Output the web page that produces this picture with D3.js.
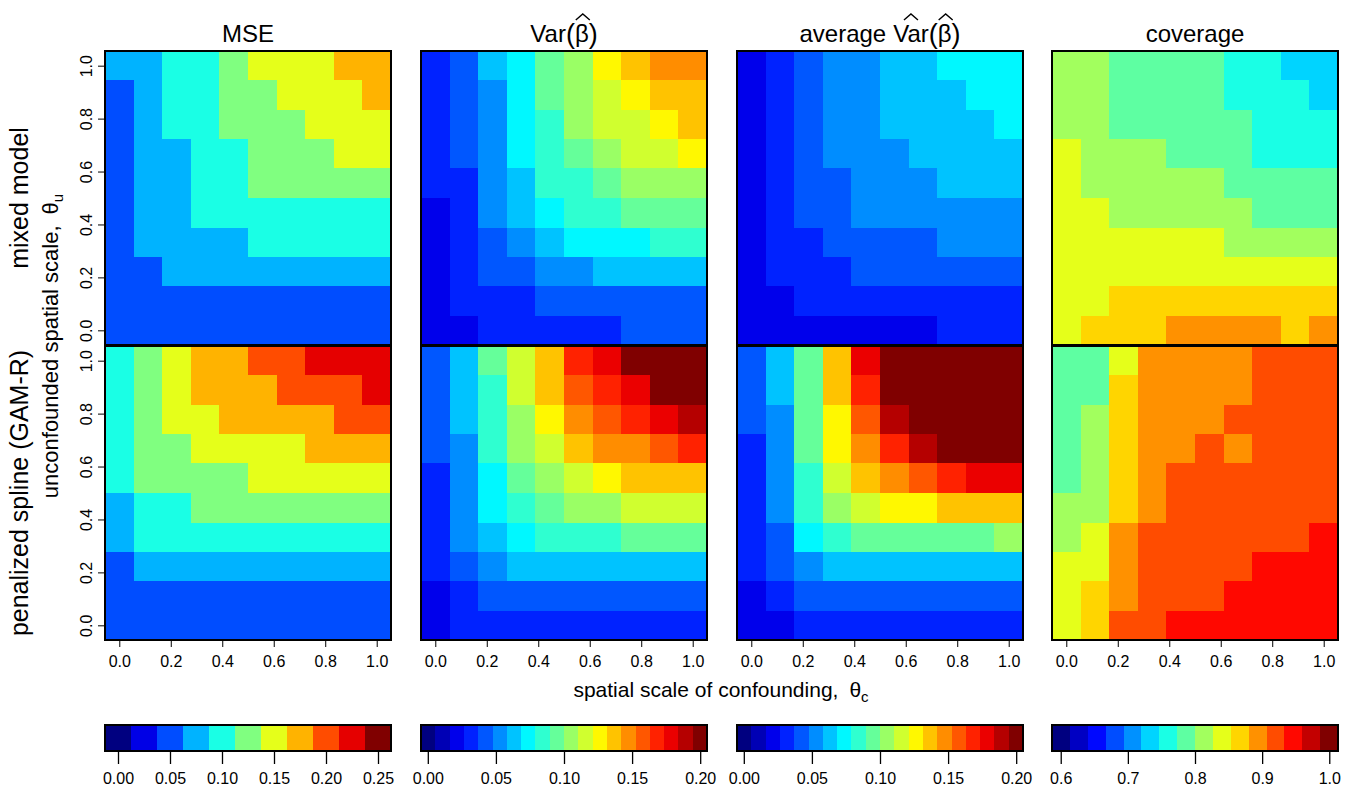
<!DOCTYPE html>
<html>
<head>
<meta charset="utf-8">
<script src="https://cdn.jsdelivr.net/npm/d3@7"></script>
<style>
  body { margin: 0; background: #fff; }
  text { font-family: "Liberation Sans", Arial, Helvetica, sans-serif; fill: #000; }
</style>
</head>
<body>
<svg id="chart" width="1356" height="787"></svg>
<script>
// spatial scales used in the simulation (10 values from 0 to 1)
const theta = [0, 0.111, 0.222, 0.333, 0.444, 0.556, 0.667, 0.778, 0.889, 1.0]
const axisTicks = [0, 0.2, 0.4, 0.6, 0.8, 1.0]

// every matrix: rows go from theta_u = 1.0 (top) down to theta_u = 0.0,
// columns go from theta_c = 0.0 to theta_c = 1.0

// MSE
const mseMixed = [
  [0.075, 0.075, 0.100, 0.100, 0.125, 0.150, 0.150, 0.150, 0.175, 0.175],
  [0.050, 0.075, 0.100, 0.100, 0.125, 0.125, 0.150, 0.150, 0.150, 0.175],
  [0.050, 0.075, 0.100, 0.100, 0.125, 0.125, 0.125, 0.150, 0.150, 0.150],
  [0.050, 0.075, 0.075, 0.100, 0.100, 0.125, 0.125, 0.125, 0.150, 0.150],
  [0.050, 0.075, 0.075, 0.100, 0.100, 0.125, 0.125, 0.125, 0.125, 0.125],
  [0.050, 0.075, 0.075, 0.100, 0.100, 0.100, 0.100, 0.100, 0.100, 0.100],
  [0.050, 0.075, 0.075, 0.075, 0.075, 0.100, 0.100, 0.100, 0.100, 0.100],
  [0.050, 0.050, 0.075, 0.075, 0.075, 0.075, 0.075, 0.075, 0.075, 0.075],
  [0.050, 0.050, 0.050, 0.050, 0.050, 0.050, 0.050, 0.050, 0.050, 0.050],
  [0.050, 0.050, 0.050, 0.050, 0.050, 0.050, 0.050, 0.050, 0.050, 0.050]
]
const mseGam = [
  [0.100, 0.125, 0.150, 0.175, 0.175, 0.200, 0.200, 0.225, 0.225, 0.225],
  [0.100, 0.125, 0.150, 0.175, 0.175, 0.175, 0.200, 0.200, 0.200, 0.225],
  [0.100, 0.125, 0.150, 0.150, 0.175, 0.175, 0.175, 0.175, 0.200, 0.200],
  [0.100, 0.125, 0.125, 0.150, 0.150, 0.150, 0.150, 0.175, 0.175, 0.175],
  [0.100, 0.125, 0.125, 0.125, 0.125, 0.150, 0.150, 0.150, 0.150, 0.150],
  [0.075, 0.100, 0.100, 0.125, 0.125, 0.125, 0.125, 0.125, 0.125, 0.125],
  [0.075, 0.100, 0.100, 0.100, 0.100, 0.100, 0.100, 0.100, 0.100, 0.100],
  [0.050, 0.075, 0.075, 0.075, 0.075, 0.075, 0.075, 0.075, 0.075, 0.075],
  [0.050, 0.050, 0.050, 0.050, 0.050, 0.050, 0.050, 0.050, 0.050, 0.050],
  [0.050, 0.050, 0.050, 0.050, 0.050, 0.050, 0.050, 0.050, 0.050, 0.050]
]

// Var(beta hat)
const varMixed = [
  [0.032, 0.042, 0.063, 0.074, 0.095, 0.105, 0.126, 0.137, 0.147, 0.147],
  [0.032, 0.042, 0.053, 0.074, 0.095, 0.105, 0.116, 0.126, 0.137, 0.137],
  [0.032, 0.042, 0.053, 0.074, 0.084, 0.105, 0.116, 0.116, 0.126, 0.137],
  [0.032, 0.042, 0.053, 0.074, 0.084, 0.095, 0.105, 0.116, 0.116, 0.126],
  [0.032, 0.032, 0.053, 0.063, 0.084, 0.084, 0.095, 0.105, 0.105, 0.105],
  [0.021, 0.032, 0.053, 0.063, 0.074, 0.084, 0.084, 0.095, 0.095, 0.095],
  [0.021, 0.032, 0.042, 0.053, 0.063, 0.074, 0.074, 0.074, 0.084, 0.084],
  [0.021, 0.032, 0.042, 0.042, 0.053, 0.053, 0.063, 0.063, 0.063, 0.063],
  [0.021, 0.032, 0.032, 0.032, 0.042, 0.042, 0.042, 0.042, 0.042, 0.042],
  [0.021, 0.021, 0.032, 0.032, 0.032, 0.032, 0.032, 0.042, 0.042, 0.042]
]
const varGam = [
  [0.042, 0.063, 0.095, 0.116, 0.137, 0.168, 0.179, 0.200, 0.200, 0.200],
  [0.042, 0.063, 0.084, 0.116, 0.137, 0.158, 0.168, 0.179, 0.200, 0.200],
  [0.042, 0.063, 0.084, 0.105, 0.126, 0.147, 0.158, 0.168, 0.179, 0.189],
  [0.042, 0.053, 0.084, 0.105, 0.116, 0.137, 0.147, 0.147, 0.158, 0.168],
  [0.032, 0.053, 0.074, 0.095, 0.105, 0.116, 0.126, 0.137, 0.137, 0.137],
  [0.032, 0.053, 0.074, 0.084, 0.095, 0.105, 0.105, 0.116, 0.116, 0.116],
  [0.032, 0.053, 0.063, 0.074, 0.084, 0.084, 0.084, 0.095, 0.095, 0.095],
  [0.032, 0.042, 0.053, 0.063, 0.063, 0.063, 0.063, 0.063, 0.063, 0.063],
  [0.021, 0.032, 0.042, 0.042, 0.042, 0.042, 0.042, 0.042, 0.042, 0.042],
  [0.021, 0.032, 0.032, 0.032, 0.032, 0.032, 0.032, 0.032, 0.032, 0.032]
]

// average estimated Var(beta hat)
const avgVarMixed = [
  [0.021, 0.032, 0.042, 0.053, 0.053, 0.063, 0.063, 0.074, 0.074, 0.074],
  [0.021, 0.032, 0.042, 0.053, 0.053, 0.063, 0.063, 0.063, 0.074, 0.074],
  [0.021, 0.032, 0.042, 0.053, 0.053, 0.063, 0.063, 0.063, 0.063, 0.074],
  [0.021, 0.032, 0.042, 0.053, 0.053, 0.053, 0.063, 0.063, 0.063, 0.063],
  [0.021, 0.032, 0.042, 0.042, 0.053, 0.053, 0.053, 0.063, 0.063, 0.063],
  [0.021, 0.032, 0.042, 0.042, 0.053, 0.053, 0.053, 0.053, 0.053, 0.053],
  [0.021, 0.032, 0.032, 0.042, 0.042, 0.042, 0.042, 0.053, 0.053, 0.053],
  [0.021, 0.032, 0.032, 0.032, 0.042, 0.042, 0.042, 0.042, 0.042, 0.042],
  [0.021, 0.021, 0.032, 0.032, 0.032, 0.032, 0.032, 0.032, 0.032, 0.032],
  [0.021, 0.021, 0.021, 0.021, 0.021, 0.021, 0.021, 0.032, 0.032, 0.032]
]
const avgVarGam = [
  [0.042, 0.063, 0.095, 0.137, 0.179, 0.200, 0.200, 0.200, 0.200, 0.200],
  [0.042, 0.063, 0.095, 0.137, 0.168, 0.200, 0.200, 0.200, 0.200, 0.200],
  [0.042, 0.053, 0.095, 0.126, 0.158, 0.189, 0.200, 0.200, 0.200, 0.200],
  [0.032, 0.053, 0.095, 0.126, 0.147, 0.168, 0.189, 0.200, 0.200, 0.200],
  [0.032, 0.053, 0.084, 0.116, 0.137, 0.147, 0.158, 0.168, 0.179, 0.179],
  [0.032, 0.053, 0.084, 0.105, 0.116, 0.126, 0.126, 0.137, 0.137, 0.137],
  [0.032, 0.042, 0.074, 0.084, 0.095, 0.095, 0.095, 0.095, 0.095, 0.105],
  [0.032, 0.042, 0.053, 0.063, 0.063, 0.063, 0.063, 0.063, 0.063, 0.063],
  [0.021, 0.032, 0.042, 0.042, 0.042, 0.042, 0.042, 0.042, 0.042, 0.042],
  [0.021, 0.021, 0.032, 0.032, 0.032, 0.032, 0.032, 0.032, 0.032, 0.032]
]

// coverage of the confidence intervals
const covMixed = [
  [0.813, 0.813, 0.787, 0.787, 0.787, 0.787, 0.760, 0.760, 0.733, 0.733],
  [0.813, 0.813, 0.787, 0.787, 0.787, 0.787, 0.760, 0.760, 0.760, 0.733],
  [0.813, 0.813, 0.787, 0.787, 0.787, 0.787, 0.787, 0.760, 0.760, 0.760],
  [0.840, 0.813, 0.813, 0.813, 0.787, 0.787, 0.787, 0.760, 0.760, 0.760],
  [0.840, 0.813, 0.813, 0.813, 0.813, 0.813, 0.787, 0.787, 0.787, 0.787],
  [0.840, 0.840, 0.813, 0.813, 0.813, 0.813, 0.813, 0.787, 0.787, 0.787],
  [0.840, 0.840, 0.840, 0.840, 0.840, 0.840, 0.813, 0.813, 0.813, 0.813],
  [0.840, 0.840, 0.840, 0.840, 0.840, 0.840, 0.840, 0.840, 0.840, 0.840],
  [0.840, 0.840, 0.867, 0.867, 0.867, 0.867, 0.867, 0.867, 0.867, 0.867],
  [0.840, 0.867, 0.867, 0.867, 0.893, 0.893, 0.893, 0.893, 0.867, 0.893]
]
const covGam = [
  [0.787, 0.787, 0.840, 0.893, 0.893, 0.893, 0.893, 0.920, 0.920, 0.920],
  [0.787, 0.787, 0.867, 0.893, 0.893, 0.893, 0.893, 0.920, 0.920, 0.920],
  [0.787, 0.813, 0.867, 0.893, 0.893, 0.893, 0.920, 0.920, 0.920, 0.920],
  [0.787, 0.813, 0.867, 0.893, 0.893, 0.920, 0.893, 0.920, 0.920, 0.920],
  [0.787, 0.813, 0.867, 0.893, 0.920, 0.920, 0.920, 0.920, 0.920, 0.920],
  [0.813, 0.813, 0.867, 0.893, 0.920, 0.920, 0.920, 0.920, 0.920, 0.920],
  [0.813, 0.840, 0.893, 0.920, 0.920, 0.920, 0.920, 0.920, 0.920, 0.946],
  [0.840, 0.840, 0.893, 0.920, 0.920, 0.920, 0.920, 0.946, 0.946, 0.946],
  [0.840, 0.867, 0.893, 0.920, 0.920, 0.920, 0.946, 0.946, 0.946, 0.946],
  [0.840, 0.867, 0.920, 0.920, 0.946, 0.946, 0.946, 0.946, 0.946, 0.946]
]

// colour bar ranges and tick labels
const mseLegendRange = [-0.0125, 0.2625]
const mseLegendTicks = [0, 0.05, 0.10, 0.15, 0.20, 0.25]
const varLegendRange = [-0.005, 0.205]
const varLegendTicks = [0, 0.05, 0.10, 0.15, 0.20]
const covLegendRange = [0.587, 1.013]
const covLegendTicks = [0.6, 0.7, 0.8, 0.9, 1.0]

const rowLabels = ['mixed model', 'penalized spline (GAM-R)']

/* ----- layout ----- */
const FONT = 'Liberation Sans, Arial, Helvetica, sans-serif'
const panelLeft = [105, 421, 737, 1052]
const panelWidth = 286
const rowTop = [51, 346]
const panelHeight = 294
const legendTop = 725
const legendHeight = 26

// matlab / fields style "jet" colours
function jet (t) {
  const f = v => Math.max(0, Math.min(1, v))
  const r = f(1.5 - Math.abs(4 * t - 3))
  const g = f(1.5 - Math.abs(4 * t - 2))
  const b = f(1.5 - Math.abs(4 * t - 1))
  return d3.rgb(r * 255, g * 255, b * 255).formatHex()
}
function palette (n) {
  return d3.range(n).map(k => jet(k / (n - 1)))
}

const svg = d3.select('#chart')

// text with optional hats (plotmath look)
function mathText (cx, baseline, parts) {
  const grp = svg.append('g')
  let x = 0
  const hats = []
  parts.forEach(p => {
    const el = grp.append('text')
      .attr('x', x)
      .attr('y', baseline + (p.dy || 0))
      .attr('font-size', p.size || 24)
      .text(p.t)
    const w = el.node().getComputedTextLength()
    if (p.hat) hats.push(x + w / 2 + (p.hatShift || 0))
    x += w + (p.gap || 0)
  })
  hats.forEach(hx => {
    grp.append('path')
      .attr('d', `M${hx - 7},${baseline - 22}L${hx},${baseline - 28}L${hx + 7},${baseline - 22}`)
      .attr('fill', 'none')
      .attr('stroke', '#000')
      .attr('stroke-width', 1.4)
  })
  grp.attr('transform', `translate(${cx - x / 2},0)`)
}

const columns = [
  {
    title: [{ t: 'MSE' }],
    data: [mseMixed, mseGam],
    range: mseLegendRange, n: 11, ticks: mseLegendTicks, fmt: '.2f'
  },
  {
    title: [{ t: 'Var' }, { t: '(', size: 27, dy: 1 }, { t: 'β', hat: true, hatShift: 1 }, { t: ')', size: 27, dy: 1 }],
    data: [varMixed, varGam],
    range: varLegendRange, n: 20, ticks: varLegendTicks, fmt: '.2f'
  },
  {
    title: [{ t: 'average', gap: 7 }, { t: 'Var', hat: true }, { t: '(', size: 27, dy: 1 }, { t: 'β', hat: true, hatShift: 1 }, { t: ')', size: 27, dy: 1 }],
    data: [avgVarMixed, avgVarGam],
    range: varLegendRange, n: 20, ticks: varLegendTicks, fmt: '.2f'
  },
  {
    title: [{ t: 'coverage' }],
    data: [covMixed, covGam],
    range: covLegendRange, n: 16, ticks: covLegendTicks, fmt: '.1f'
  }
]

const half = (theta[1] - theta[0]) / 2

columns.forEach((col, ci) => {
  const left = panelLeft[ci]
  const x = d3.scaleLinear().domain([theta[0] - half, theta[9] + half]).range([left, left + panelWidth])
  const color = d3.scaleQuantize().domain(col.range).range(palette(col.n))

  // title
  mathText(left + panelWidth / 2, 42, col.title)

  col.data.forEach((matrix, ri) => {
    const top = rowTop[ri]
    const y = d3.scaleLinear().domain([theta[0] - half, theta[9] + half]).range([top + panelHeight, top])
    const cells = []
    matrix.forEach((row, i) => {
      row.forEach((v, j) => {
        cells.push({ tc: theta[j], tu: theta[9 - i], v: v })
      })
    })
    svg.append('g')
      .attr('shape-rendering', 'crispEdges')
      .selectAll('rect')
      .data(cells)
      .join('rect')
      .attr('x', d => x(d.tc - half))
      .attr('y', d => y(d.tu + half))
      .attr('width', d => x(d.tc + half) - x(d.tc - half))
      .attr('height', d => y(d.tu - half) - y(d.tu + half))
      .attr('fill', d => color(d.v))

    // y axis only on the first column
    if (ci === 0) {
      svg.append('g')
        .attr('transform', `translate(${left},0)`)
        .call(d3.axisLeft(y).tickValues(axisTicks).tickFormat(d3.format('.1f')).tickSize(7))
        .call(g => g.select('.domain').remove())
        .attr('font-family', FONT)
        .attr('font-size', 16)
        .call(g => g.selectAll('.tick text')
          .attr('x', null)
          .attr('dy', null)
          .attr('text-anchor', 'middle')
          .attr('transform', 'translate(-13,0) rotate(-90)'))
    }
    // x axis only under the bottom row
    if (ri === 1) {
      svg.append('g')
        .attr('transform', `translate(0,${top + panelHeight})`)
        .call(d3.axisBottom(x).tickValues(axisTicks).tickFormat(d3.format('.1f')).tickSize(7))
        .call(g => g.select('.domain').remove())
        .attr('font-family', FONT)
        .attr('font-size', 16)
        .call(g => g.selectAll('.tick text').attr('y', 16))
    }

    // frame
    svg.append('rect')
      .attr('x', left)
      .attr('y', top)
      .attr('width', panelWidth)
      .attr('height', panelHeight)
      .attr('fill', 'none')
      .attr('stroke', '#000')
      .attr('stroke-width', 2)
  })

  /* ----- colour bar ----- */
  const lx = d3.scaleLinear().domain(col.range).range([left, left + panelWidth])
  const step = (col.range[1] - col.range[0]) / col.n
  const boxes = d3.range(col.n).map(k => col.range[0] + k * step)
  svg.append('g')
    .attr('shape-rendering', 'crispEdges')
    .selectAll('rect')
    .data(boxes)
    .join('rect')
    .attr('x', d => lx(d))
    .attr('y', legendTop)
    .attr('width', d => lx(d + step) - lx(d))
    .attr('height', legendHeight)
    .attr('fill', d => color(d + step / 2))
  svg.append('rect')
    .attr('x', left)
    .attr('y', legendTop)
    .attr('width', panelWidth)
    .attr('height', legendHeight)
    .attr('fill', 'none')
    .attr('stroke', '#000')
    .attr('stroke-width', 2)
  svg.append('g')
    .attr('transform', `translate(0,${legendTop + legendHeight})`)
    .call(d3.axisBottom(lx).tickValues(col.ticks).tickFormat(d3.format(col.fmt)).tickSize(13))
    .call(g => g.select('.domain').remove())
    .attr('font-family', FONT)
    .attr('font-size', 16)
    .call(g => g.selectAll('.tick line').attr('stroke-width', 1.3))
    .call(g => g.selectAll('.tick text').attr('y', 22))
})

/* ----- axis titles ----- */
svg.append('text')
  .attr('x', 721)
  .attr('y', 697)
  .attr('text-anchor', 'middle')
  .attr('font-size', 21)
  .call(t => {
    t.append('tspan').text('spatial scale of confounding,')
    t.append('tspan').attr('dx', 11).text('θ')
    t.append('tspan').attr('font-size', 15).attr('dy', 5).text('c')
  })

svg.append('text')
  .attr('transform', 'translate(58,346) rotate(-90)')
  .attr('text-anchor', 'middle')
  .attr('font-size', 22)
  .call(t => {
    t.append('tspan').text('unconfounded spatial scale,')
    t.append('tspan').attr('dx', 11).text('θ')
    t.append('tspan').attr('font-size', 15).attr('dy', 5).text('u')
  })

rowLabels.forEach((label, ri) => {
  svg.append('text')
    .attr('transform', `translate(28,${rowTop[ri] + panelHeight / 2}) rotate(-90)`)
    .attr('text-anchor', 'middle')
    .attr('font-size', 25)
    .text(label)
})
</script>
</body>
</html>
